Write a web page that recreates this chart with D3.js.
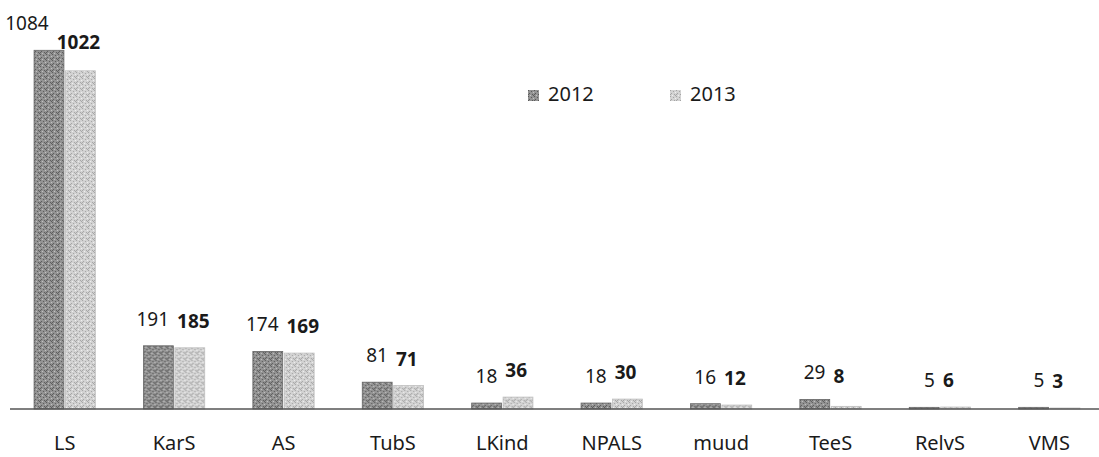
<!DOCTYPE html>
<html>
<head>
<meta charset="utf-8">
<script src="https://cdn.jsdelivr.net/npm/d3@7"></script>
<style>
  body { margin: 0; background: #fff; }
  svg text { font-family: "Noto Sans", "Open Sans", sans-serif; fill: #1a1a1a; }
</style>
</head>
<body>
<svg id="chart" width="1099" height="457"></svg>
<script>
// values
const categories = ["LS", "KarS", "AS", "TubS", "LKind", "NPALS", "muud", "TeeS", "RelvS", "VMS"];
const series = ["2012", "2013"];
const values2012 = [1084, 191, 174, 81, 18, 18, 16, 29, 5, 5];
const values2013 = [1022, 185, 169, 71, 36, 30, 12, 8, 6, 3];

const width = 1099,
    height = 457,
    baseY = 409;

let svg = d3.select("#chart");

// stippled fills, a bit like the scan
let defs = svg.append("defs");
// dot spots in a 6x6 tile (scattered so it doesnt look striped)
const dots = [[0,0],[3,1],[5,2],[1,3],[4,4],[2,5],[0,4],[5,5]];
function grain(id, base, dark, light) {
    let p = defs.append("pattern")
        .attr("id", id)
        .attr("width", 6).attr("height", 6)
        .attr("patternUnits", "userSpaceOnUse");
    p.append("rect").attr("width", 6).attr("height", 6).attr("fill", base);
    dots.forEach((d, i) => {
        p.append("rect")
            .attr("x", d[0]).attr("y", d[1])
            .attr("width", 1).attr("height", 1)
            .attr("fill", i % 3 === 2 ? light : dark);
    });
}
grain("g2012", "#939393", "#5a5a5a", "#c4c4c4");
grain("g2013", "#d2d2d2", "#a4a4a4", "#f0f0f0");

let fills = {"2012": "url(#g2012)", "2013": "url(#g2013)"},
    strokes = {"2012": "#666", "2013": "#c0c0c0"};

let x0 = d3.scaleBand().domain(categories).range([10, 1104])
    .paddingInner(0.44).paddingOuter(0.22);
let x1 = d3.scaleBand().domain(series).range([0, x0.bandwidth()]).paddingInner(0.05);
let y = d3.scaleLinear().domain([0, 1100]).range([baseY, 45]);

let rows = categories.map((c, i) => ({cat: c, vals: [
    {s: "2012", v: values2012[i]},
    {s: "2013", v: values2013[i]}
]}));

let groups = svg.append("g").selectAll("g")
    .data(rows)
    .join("g")
    .attr("transform", d => "translate(" + x0(d.cat) + ",0)");

groups.selectAll("rect")
    .data(d => d.vals)
    .join("rect")
    .attr("x", d => x1(d.s))
    .attr("y", d => y(d.v))
    .attr("width", x1.bandwidth())
    .attr("height", d => baseY - y(d.v))
    .attr("fill", d => fills[d.s])
    .attr("stroke", d => strokes[d.s])
    .attr("stroke-width", 0.8);

// axis line along the bottom
let xAxis = d3.axisBottom(x0).tickSize(0).tickPadding(27);
let ax = svg.append("g")
    .attr("transform", "translate(0," + baseY + ")")
    .call(xAxis);
ax.select(".domain").attr("d", "M10,0H1099").attr("stroke", "#555").attr("stroke-width", 1.5);
ax.selectAll("text").attr("font-size", 20).attr("font-family", "Noto Sans, sans-serif").attr("fill", "#1a1a1a");

// data labels: 2012 normal to the left, 2013 bold to the right
groups.each(function(d) {
    let g = d3.select(this),
        c = x0.bandwidth() / 2;
    let a = d.vals[0], b = d.vals[1];
    let big = (y(b.v) - y(a.v)) > 18;
    g.append("text")
        .attr("x", big ? c - 16 : c - 5)
        .attr("y", y(a.v) - 20)
        .attr("text-anchor", "end")
        .attr("font-size", 19)
        .text(a.v);
    g.append("text")
        .attr("x", big ? x1(b.s) + x1.bandwidth() / 2 - 2 : c + 3)
        .attr("y", big ? y(b.v) - 22 : Math.min(y(b.v), y(a.v) + 4) - 20)
        .attr("text-anchor", big ? "middle" : "start")
        .attr("font-size", 19)
        .attr("font-weight", "bold")
        .text(b.v);
});

// legend
let legend = svg.append("g").selectAll("g")
    .data(series)
    .join("g")
    .attr("transform", (d, i) => "translate(" + (528 + i * 142) + ",90)");
legend.append("rect")
    .attr("width", 11).attr("height", 11)
    .attr("fill", d => fills[d]);
legend.append("text")
    .attr("x", 20).attr("y", 11)
    .attr("font-size", 20)
    .text(d => d);
</script>
</body>
</html>
